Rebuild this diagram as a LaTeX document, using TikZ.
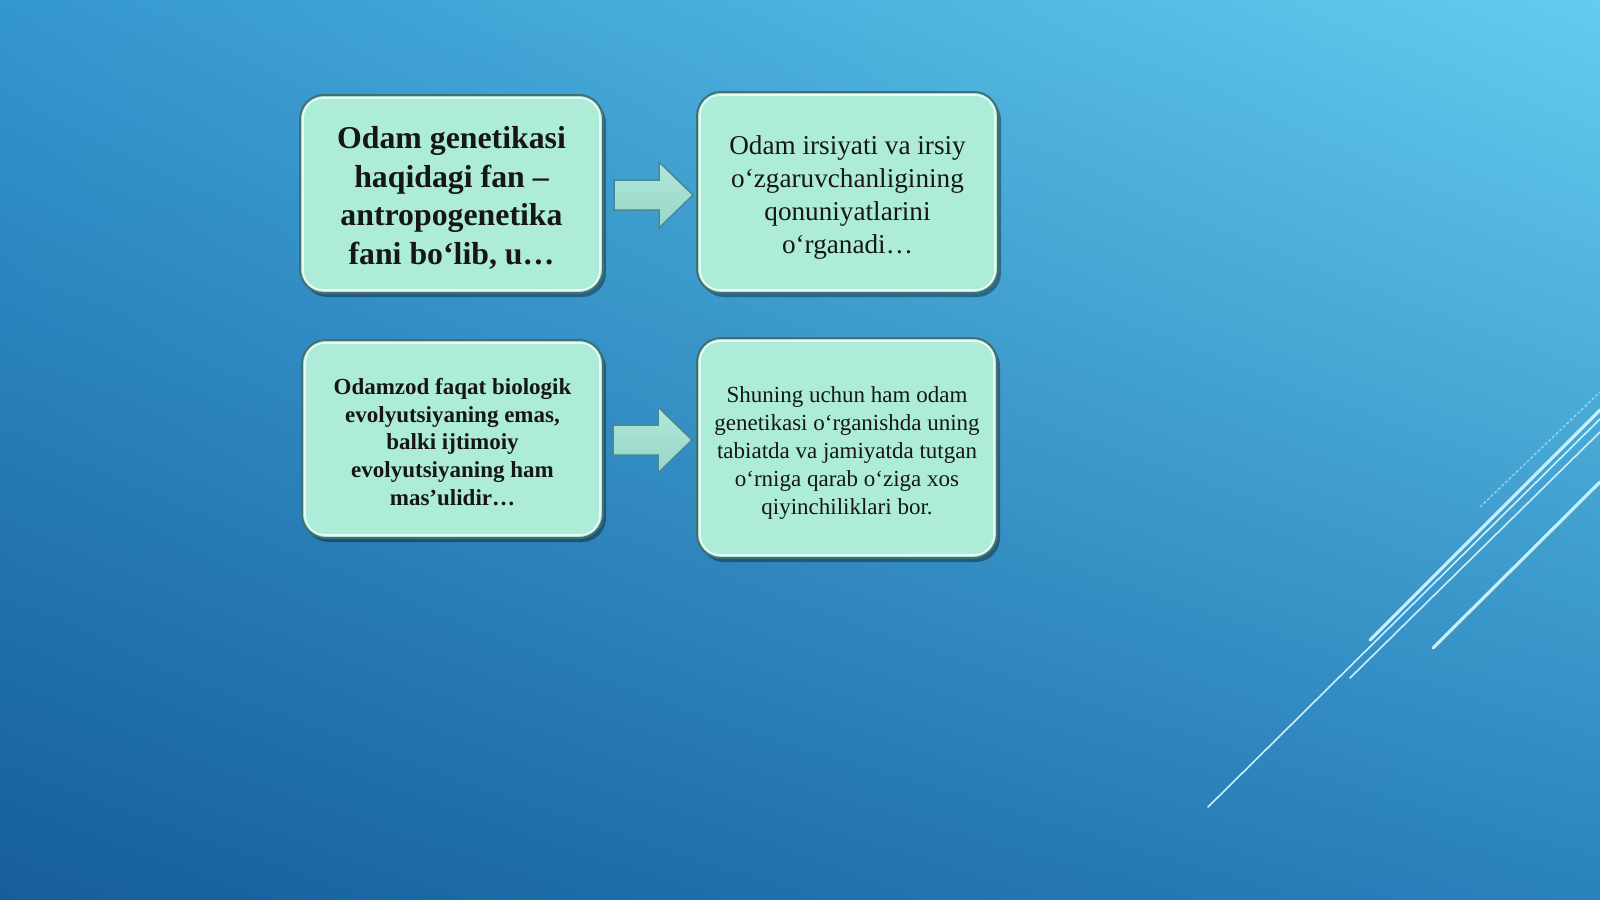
\documentclass[tikz,border=0pt]{standalone}
\usepackage{fontspec}
\setmainfont{Liberation Serif}
\usetikzlibrary{shadows,calc,shadings}
\definecolor{bgTL}{RGB}{52,150,206}
\definecolor{bgTR}{RGB}{100,204,238}
\definecolor{bgBL}{RGB}{22,94,154}
\definecolor{bgBR}{RGB}{42,130,188}
\definecolor{boxfill}{RGB}{172,236,216}
\definecolor{boxedge}{RGB}{66,112,114}
\definecolor{txt}{RGB}{22,22,22}
\definecolor{arrEdge}{RGB}{70,136,148}
\definecolor{arrTop}{RGB}{176,232,218}
\definecolor{arrMid}{RGB}{226,252,242}
\definecolor{arrBot}{RGB}{150,214,200}
\definecolor{lineC}{RGB}{200,240,252}
\tikzset{
  box/.style={draw=boxedge, line width=2pt, fill=boxfill, rounded corners=24pt,
    inner sep=0pt,
    drop shadow={shadow xshift=3pt, shadow yshift=-4pt, opacity=0.35, fill=black}},
  boxtext/.style={align=center, inner sep=0pt, text=txt},
  innerhl/.style={draw=white, line width=1.6pt, opacity=0.75, rounded corners=20pt},
  arrowst/.style={draw=arrEdge, line width=1.5pt, top color=arrTop, middle color=arrMid, bottom color=arrBot, line join=miter},
  blockarr/.pic={\draw[arrowst] (0,-15) -- (45,-15) -- (45,-33) -- (79,0) -- (45,33) -- (45,15) -- (0,15) -- cycle;},
  thickln/.style={draw=lineC, line width=3.2pt, line cap=round},
  thinln/.style={draw=lineC, line width=1.6pt, line cap=round},
  faintln/.style={draw=lineC, line width=1.2pt, opacity=0.7, dashed, dash pattern=on 3pt off 2pt}
}
\begin{document}
\begin{tikzpicture}[x=1pt,y=-1pt]
\useasboundingbox (0,0) rectangle (1600,899);
\shade[upper left=bgTL, upper right=bgTR, lower left=bgBL, lower right=bgBR] (0,0) rectangle (1600,899);

% decorative lines
\draw[thinln] (1208,807) -- (1600,419);
\draw[thickln] (1370,640) -- (1600,410);
\draw[thinln] (1350,678) -- (1600,432);
\draw[thickln] (1433,648) -- (1600,482);
\draw[faintln] (1480,507) -- (1600,392);

% boxes
\node[box, minimum width=303pt, minimum height=198pt] (b1) at (451.5,194) {};
\node[box, minimum width=301pt, minimum height=201pt] (b2) at (847.5,192.5) {};
\node[box, minimum width=301pt, minimum height=198pt] (b3) at (452.5,439) {};
\node[box, minimum width=300pt, minimum height=220pt] (b4) at (847,448) {};

% inner highlights
\foreach \b in {b1,b2,b3,b4}{
  \draw[innerhl] ([shift={(4,4)}]\b.north west) rectangle ([shift={(-4,-4)}]\b.south east);
}

% texts
\node[boxtext, font=\bfseries\fontsize{31.8}{38.8}\selectfont] (t1) at ($(b1.center)+(0,4)$)
  {Odam genetikasi\\haqidagi fan –\\antropogenetika\\fani bo‘lib, u…};
\node[boxtext, font=\fontsize{27.2}{33.3}\selectfont] (t2) at ($(b2.center)+(0,5)$)
  {Odam irsiyati va irsiy\\o‘zgaruvchanligining\\qonuniyatlarini\\o‘rganadi…};
\node[boxtext, font=\bfseries\fontsize{23}{27.8}\selectfont] (t3) at ($(b3.center)+(0,3)$)
  {Odamzod faqat biologik\\evolyutsiyaning emas,\\balki ijtimoiy\\evolyutsiyaning ham\\mas’ulidir…};
\node[boxtext, font=\fontsize{23}{27.8}\selectfont] (t4) at ($(b4.center)+(0,5)$)
  {Shuning uchun ham odam\\genetikasi o‘rganishda uning\\tabiatda va jamiyatda tutgan\\o‘rniga qarab o‘ziga xos\\qiyinchiliklari bor.};

% block arrows
\pic at ($(b1.east)+(10,1)$) {blockarr};
\pic at ($(b3.east)+(9,1)$) {blockarr};
\end{tikzpicture}
\end{document}
